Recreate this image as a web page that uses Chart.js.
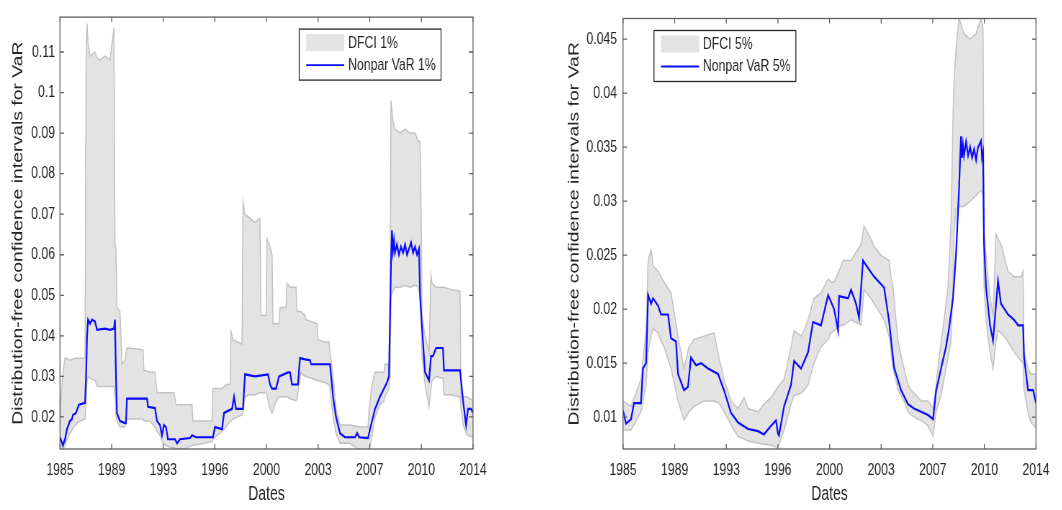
<!DOCTYPE html>
<html>
<head>
<meta charset="utf-8">
<script src="https://cdn.jsdelivr.net/npm/chart.js@4.4.1/dist/chart.umd.min.js"></script>
<style>
  html, body { margin: 0; padding: 0; background: #fff; overflow: hidden; }
  /* the original figure is squeezed sideways, so each panel is drawn wide and scaled */
  .panel { position: absolute; top: 0; width: 738px; height: 510px; transform: scaleX(0.72); transform-origin: 0 0; }
</style>
</head>
<body>
<div class="panel" style="left:0"><canvas id="var1" width="738" height="510"></canvas></div>
<div class="panel" style="left:531px"><canvas id="var5" width="738" height="510"></canvas></div>
<script>
// x axis labels (evenly spaced over 1985..2014)
const dateTicks = ['1985', '1989', '1993', '1996', '2000', '2003', '2007', '2010', '2014'];

// ---- 1% panel ----
const yTicks1 = [0.02, 0.03, 0.04, 0.05, 0.06, 0.07, 0.08, 0.09, 0.1, 0.11];
const yLabels1 = ['0.02', '0.03', '0.04', '0.05', '0.06', '0.07', '0.08', '0.09', '0.1', '0.11'];

const band1Years = [
  1985.00, 1985.14, 1985.21, 1985.35, 1985.49, 1985.70, 1986.05, 1986.40, 1986.76, 1986.83,
  1986.90, 1986.97, 1987.11, 1987.46, 1987.60, 1987.81, 1988.16, 1988.51, 1988.79, 1988.86,
  1988.93, 1989.00, 1989.21, 1989.35, 1989.56, 1989.70, 1990.27, 1990.83, 1990.90, 1991.32,
  1991.67, 1991.81, 1992.02, 1992.23, 1992.72, 1993.00, 1993.15, 1993.78, 1994.27, 1994.34,
  1995.18, 1995.67, 1995.74, 1996.38, 1996.66, 1996.94, 1997.01, 1997.15, 1997.78, 1997.85,
  1997.99, 1998.34, 1998.69, 1999.04, 1999.11, 1999.47, 1999.54, 1999.75, 1999.89, 1999.96,
  2000.17, 2000.38, 2000.45, 2000.87, 2000.94, 2001.15, 2001.57, 2001.64, 2001.92, 2002.20,
  2002.27, 2003.05, 2003.12, 2003.61, 2003.89, 2003.96, 2004.17, 2004.38, 2004.66, 2005.36,
  2006.07, 2006.63, 2006.70, 2006.91, 2007.12, 2007.47, 2007.75, 2007.82, 2008.10, 2008.17,
  2008.24, 2008.38, 2008.52, 2008.87, 2009.23, 2009.58, 2009.93, 2010.14, 2010.28, 2010.35,
  2010.42, 2010.63, 2010.91, 2011.05, 2011.12, 2011.40, 2011.89, 2011.96, 2012.38, 2013.09,
  2013.16, 2013.30, 2013.58, 2014.00
];
const band1Lo = [
  .0135, .0125, .012, .013, .0145, .016, .018, .019, .0195, .024,
  .029, .030, .0295, .029, .0275, .0275, .0275, .0275, .0275, .025,
  .020, .019, .0175, .0175, .0175, .0195, .0195, .0195, .019, .019,
  .0175, .0165, .0155, .0135, .0125, .0125, .0122, .0122, .013, .013,
  .0135, .014, .0145, .0165, .0175, .019, .019, .0195, .0205, .021,
  .025, .0255, .0255, .026, .026, .026, .025, .022, .021, .0215,
  .024, .025, .025, .025, .025, .0245, .024, .0245, .031, .030,
  .030, .029, .029, .0285, .028, .027, .020, .016, .0135, .0135,
  .0118, .0115, .012, .015, .020, .023, .024, .025, .027, .030,
  .050, .051, .052, .052, .0525, .052, .0525, .052, .050, .045,
  .035, .028, .0225, .027, .029, .030, .0295, .0255, .0255, .025,
  .022, .018, .0155, .015
];
const band1Hi = [
  .020, .028, .031, .0345, .0345, .034, .0345, .0345, .0345, .109,
  .117, .112, .109, .110, .1085, .108, .109, .108, .116, .063,
  .061, .047, .046, .033, .034, .037, .0368, .0365, .0315, .031,
  .031, .026, .026, .026, .026, .026, .023, .023, .023, .019,
  .019, .019, .027, .027, .028, .028, .041, .039, .038, .073,
  .070, .069, .068, .069, .045, .045, .064, .062, .060, .043,
  .043, .043, .047, .047, .053, .052, .052, .046, .046, .045,
  .044, .043, .039, .0385, .0385, .036, .030, .022, .018, .018,
  .0175, .0175, .022, .028, .031, .031, .031, .033, .033, .033,
  .098, .093, .091, .090, .091, .090, .090, .088, .088, .073,
  .045, .040, .036, .055, .053, .052, .052, .052, .0515, .051,
  .025, .025, .025, .024
];
const var1Years = [
  1985.00, 1985.21, 1985.35, 1985.49, 1985.70, 1985.84, 1985.91, 1986.12, 1986.33, 1986.76,
  1986.83, 1986.90, 1986.97, 1987.11, 1987.25, 1987.46, 1987.60, 1988.16, 1988.51, 1988.79,
  1988.86, 1988.93, 1989.00, 1989.21, 1989.56, 1989.63, 1989.70, 1990.27, 1990.62, 1991.11,
  1991.18, 1991.67, 1991.81, 1992.02, 1992.16, 1992.30, 1992.44, 1992.58, 1993.08, 1993.22,
  1993.43, 1994.13, 1994.27, 1994.55, 1995.74, 1995.88, 1996.38, 1996.52, 1997.08, 1997.22,
  1997.36, 1997.85, 1997.99, 1998.69, 1999.61, 1999.75, 1999.89, 2000.17, 2000.38, 2001.01,
  2001.15, 2001.29, 2001.71, 2001.85, 2002.20, 2002.56, 2002.63, 2003.96, 2004.17, 2004.38,
  2004.66, 2005.01, 2005.72, 2005.86, 2006.00, 2006.63, 2006.77, 2006.91, 2007.12, 2007.47,
  2007.75, 2007.96, 2008.10, 2008.24, 2008.31, 2008.38, 2008.45, 2008.52, 2008.66, 2008.80,
  2008.94, 2009.09, 2009.23, 2009.37, 2009.51, 2009.65, 2009.79, 2009.93, 2010.07,
  2010.21, 2010.28, 2010.42, 2010.63, 2010.91, 2011.05, 2011.19, 2011.40, 2011.89, 2011.96,
  2012.74, 2013.09, 2013.30, 2013.51, 2013.65, 2013.86, 2014.00
];
const var1Vals = [
  .015, .013, .0145, .017, .019, .0195, .0205, .021, .023, .0235,
  .030, .040, .044, .043, .044, .0435, .0415, .0418, .0415, .0418,
  .044, .030, .021, .019, .0185, .0185, .0245, .0245, .0245, .0245,
  .0225, .0222, .019, .018, .0155, .018, .0175, .0145, .0145, .0135,
  .0145, .0148, .0155, .015, .015, .0175, .017, .021, .022, .025,
  .022, .022, .0305, .030, .0305, .028, .027, .027, .030, .031,
  .031, .028, .028, .0345, .0342, .034, .033, .033, .025, .020,
  .016, .015, .015, .016, .015, .0148, .017, .019, .022, .025,
  .027, .0285, .030, .058, .066, .061, .0635, .0605, .0625, .060,
  .062, .0605, .0625, .060, .0615, .063, .0605, .062, .060,
  .0615, .050, .042, .031, .029, .035, .035, .037, .037, .0315,
  .0315, .0315, .024, .018, .022, .022, .021
];

// ---- 5% panel ----
const yTicks5 = [0.01, 0.015, 0.02, 0.025, 0.03, 0.035, 0.04, 0.045];
const yLabels5 = ['0.01', '0.015', '0.02', '0.025', '0.03', '0.035', '0.04', '0.045'];

const band5Years = [
  1985.00, 1985.56, 1986.26, 1986.62, 1986.76, 1986.97, 1987.11, 1987.46, 1987.67, 1987.88,
  1988.37, 1988.86, 1989.28, 1989.63, 1989.99, 1990.69, 1991.39, 1991.74, 1992.09, 1992.58,
  1993.08, 1993.50, 1993.78, 1994.48, 1994.90, 1995.39, 1995.88, 1996.31, 1996.80, 1997.01,
  1997.50, 1997.71, 1997.99, 1998.20, 1998.41, 1998.90, 1999.40, 1999.61, 1999.82, 2000.31,
  2000.45, 2001.01, 2001.71, 2001.92, 2002.41, 2002.63, 2003.12, 2003.33, 2003.68, 2003.82,
  2003.96, 2004.31, 2004.73, 2005.01, 2005.22, 2005.72, 2005.93, 2006.42, 2006.77, 2006.98,
  2007.33, 2007.54, 2007.82, 2008.03, 2008.17, 2008.24, 2008.38, 2008.59, 2008.94, 2009.37,
  2009.79, 2010.14, 2010.28, 2010.35, 2010.49, 2010.77, 2010.98, 2011.19, 2011.33, 2011.54,
  2011.75, 2012.03, 2012.46, 2012.95, 2013.09, 2013.16, 2013.44, 2013.65, 2014.00
];
const band5Lo = [
  .0088, .0088, .0105, .013, .016, .0175, .0182, .0178, .017, .0165,
  .0145, .0115, .0097, .0105, .011, .0115, .0115, .0113, .0105, .0093,
  .0082, .008, .0078, .0076, .0075, .0074, .0072, .0088, .0112, .012,
  .0122, .0125, .013, .014, .015, .0165, .0172, .0178, .018, .0185,
  .0185, .019, .0185, .0218, .021, .0205, .0195, .019, .0175, .016,
  .0145, .0125, .0115, .0105, .0102, .0098, .0097, .0092, .0082, .0105,
  .012, .0135, .0155, .017, .022, .027, .0293, .0295, .0295, .030,
  .0305, .031, .0305, .022, .019, .016, .0145, .017, .018, .0178,
  .0175, .017, .016, .0152, .015, .0125, .0105, .0095, .009
];
const band5Hi = [
  .0115, .011, .0135, .018, .0245, .0255, .024, .0235, .023, .0225,
  .0215, .0175, .0145, .0165, .0172, .0175, .0178, .0155, .0135, .0115,
  .0108, .0118, .0108, .0105, .0112, .0118, .0128, .0135, .0165, .018,
  .0175, .018, .019, .020, .021, .0215, .0228, .0225, .0225, .024,
  .0245, .0245, .026, .0277, .0265, .0258, .025, .0248, .0245, .023,
  .022, .017, .0145, .013, .0125, .0118, .0115, .0115, .0108, .013,
  .017, .019, .022, .028, .038, .041, .044, .047, .0455, .045,
  .0455, .047, .046, .027, .025, .021, .0195, .027, .0265, .026,
  .025, .0235, .023, .023, .0235, .016, .0145, .014, .014
];
const var5Years = [
  1985.00, 1985.21, 1985.56, 1985.77, 1986.26, 1986.40, 1986.62, 1986.76, 1986.97, 1987.11,
  1987.46, 1987.67, 1988.16, 1988.37, 1988.72, 1988.86, 1989.28, 1989.56, 1989.77, 1990.13,
  1990.48, 1990.97, 1991.67, 1992.09, 1992.58, 1993.08, 1993.78, 1994.48, 1994.90, 1995.39,
  1995.74, 1995.88, 1995.95, 1996.31, 1996.80, 1997.01, 1997.50, 1997.99, 1998.34, 1998.90,
  1999.40, 1999.82, 2000.10, 2000.17, 2000.80, 2001.01, 2001.36, 2001.57, 2001.85, 2002.20,
  2002.63, 2002.98, 2003.33, 2003.68, 2004.03, 2004.52, 2005.01, 2005.43, 2005.93, 2006.42,
  2006.77, 2006.98, 2007.33, 2007.68, 2007.89, 2008.17, 2008.38, 2008.59, 2008.66, 2008.73,
  2008.80, 2008.87, 2008.94, 2009.09, 2009.23, 2009.37, 2009.51, 2009.65, 2009.79, 2009.93,
  2010.14, 2010.21, 2010.28, 2010.35, 2010.49, 2010.77, 2010.98, 2011.33,
  2011.54, 2012.03, 2012.46, 2012.74, 2013.09, 2013.16, 2013.44, 2013.79, 2014.00
];
const var5Vals = [
  .0106, .0094, .0098, .0113, .0113, .0145, .015, .0213, .0205, .021,
  .0203, .0195, .0195, .0173, .017, .014, .0125, .0128, .0155, .0148,
  .015, .0145, .014, .0125, .0104, .0095, .0089, .0087, .0084, .0092,
  .0097, .0085, .0083, .011, .013, .0152, .0145, .016, .0188, .0185,
  .0213, .020, .018, .0212, .021, .0218, .0205, .0192, .0245, .0238,
  .023, .0225, .022, .0189, .0146, .0125, .0112, .0108, .0105, .0102,
  .0098, .0124, .0145, .0165, .0182, .021, .025, .031, .0335, .036,
  .034, .0352, .0342, .0355, .0342, .035, .034, .0348, .0338, .035,
  .0356, .034, .0345, .026, .022, .0185, .0171, .0226,
  .0205, .0195, .019, .0185, .0185, .0155, .0125, .0125, .0113
];

const FONT = '"Liberation Sans", Arial, Helvetica, sans-serif';
const TXT = '#262626';
const AXIS = '#5e5e5e';
const BAND_FILL = '#e3e3e3';
const BAND_EDGE = '#c2c2c2';
const BLUE = '#0a0aff';

const pts = (xs, ys) => xs.map((x, i) => ({ x: x, y: ys[i] }));

// MATLAB-like box with inward ticks, plus the framed legend inside the axes
const boxAndLegend = {
  id: 'boxAndLegend',
  afterDatasetsDraw(chart) {
    const { ctx, chartArea: a, scales: { x, y } } = chart;
    ctx.save();
    ctx.strokeStyle = AXIS;
    ctx.lineWidth = 1.3;
    ctx.strokeRect(a.left, a.top, a.right - a.left, a.bottom - a.top);
    ctx.beginPath();
    x.ticks.forEach(t => {
      const px = x.getPixelForValue(t.value);
      ctx.moveTo(px, a.bottom); ctx.lineTo(px, a.bottom - 5);
      ctx.moveTo(px, a.top); ctx.lineTo(px, a.top + 5);
    });
    y.ticks.forEach(t => {
      const py = y.getPixelForValue(t.value);
      ctx.moveTo(a.left, py); ctx.lineTo(a.left + 5.5, py);
      ctx.moveTo(a.right, py); ctx.lineTo(a.right - 5.5, py);
    });
    ctx.stroke();
    ctx.restore();
  },
  afterDraw(chart, args, opts) {
    const { ctx, chartArea: a } = chart;
    const w = 197, h = 51;
    const left = opts.side === 'right' ? a.right - 44.4 - w : a.left + 43;
    const top = a.top + 12;
    ctx.save();
    ctx.fillStyle = '#fff';
    ctx.fillRect(left, top, w, h);
    ctx.strokeStyle = '#262626';
    ctx.lineWidth = 1.3;
    ctx.strokeRect(left, top, w, h);
    ctx.fillStyle = BAND_FILL;
    ctx.fillRect(left + 9.7, top + 5, 52.8, 17);
    ctx.strokeStyle = BLUE;
    ctx.lineWidth = 1.8;
    ctx.beginPath();
    ctx.moveTo(left + 9.7, top + 36); ctx.lineTo(left + 62.5, top + 36);
    ctx.stroke();
    ctx.fillStyle = TXT;
    ctx.font = '17px ' + FONT;
    ctx.textBaseline = 'middle';
    ctx.fillText(opts.labels[0], left + 68, top + 14);
    ctx.fillText(opts.labels[1], left + 68, top + 36);
    ctx.restore();
  }
};

function makeChart(id, c) {
  return new Chart(document.getElementById(id), {
    type: 'line',
    data: {
      datasets: [
        { data: pts(c.bandYears, c.bandHi), borderColor: BAND_EDGE, borderWidth: 1.5, backgroundColor: BAND_FILL, fill: '+1', order: 2 },
        { data: pts(c.bandYears, c.bandLo), borderColor: BAND_EDGE, borderWidth: 1.5, fill: false, order: 1 },
        { data: pts(c.varYears, c.varVals), borderColor: BLUE, borderWidth: 2.2, fill: false, order: 0 }
      ]
    },
    plugins: [boxAndLegend],
    options: {
      responsive: false,
      animation: false,
      devicePixelRatio: 1,
      layout: { padding: c.padding },
      elements: { point: { radius: 0 }, line: { tension: 0 } },
      plugins: {
        legend: { display: false },
        tooltip: { enabled: false },
        boxAndLegend: { side: c.legendSide, labels: c.legend }
      },
      scales: {
        x: {
          type: 'linear', min: 1985, max: 2014,
          grid: { display: false, drawTicks: false },
          border: { display: false },
          afterBuildTicks: s => { s.ticks = dateTicks.map((_, i) => ({ value: 1985 + i * 29 / 8 })); },
          afterFit: s => { s.height = 61; },
          ticks: { autoSkip: false, maxRotation: 0, padding: 10.8, color: TXT, font: { family: FONT, size: 17 },
                   callback: (v, i) => dateTicks[i] },
          title: { display: true, text: 'Dates', color: TXT, font: { family: FONT, size: 19.4 }, padding: { top: 0, bottom: 3.4 } }
        },
        y: {
          type: 'linear', min: c.yMin, max: c.yMax,
          grid: { display: false, drawTicks: false },
          border: { display: false },
          afterBuildTicks: s => { s.ticks = c.yTicks.map(v => ({ value: v })); },
          afterFit: s => { s.width = c.yWidth; },
          ticks: { padding: c.tickPad, color: TXT, font: { family: FONT, size: 17 },
                   callback: (v, i) => c.yLabels[i] },
          title: { display: true, text: 'Distribution-free confidence intervals for VaR', color: TXT,
                   font: { family: FONT, size: 19.4 }, padding: { top: 4, bottom: 4 } }
        }
      }
    }
  });
}

makeChart('var1', {
  bandYears: band1Years, bandLo: band1Lo, bandHi: band1Hi,
  varYears: var1Years, varVals: var1Vals,
  yTicks: yTicks1, yLabels: yLabels1, yMin: 0.0121, yMax: 0.1186,
  padding: { left: 9.8, top: 8, right: 81.06, bottom: 0 }, yWidth: 73.5, tickPad: 6.9,
  legendSide: 'right', legend: ['DFCI 1%', 'Nonpar VaR 1%']
});

makeChart('var5', {
  bandYears: band5Years, bandLo: band5Lo, bandHi: band5Hi,
  varYears: var5Years, varVals: var5Vals,
  yTicks: yTicks5, yLabels: yLabels5, yMin: 0.00705, yMax: 0.0469,
  padding: { left: 44.6, top: 8, right: 36.6, bottom: 0 }, yWidth: 83.2, tickPad: 8.3,
  legendSide: 'left', legend: ['DFCI 5%', 'Nonpar VaR 5%']
});
</script>
</body>
</html>
